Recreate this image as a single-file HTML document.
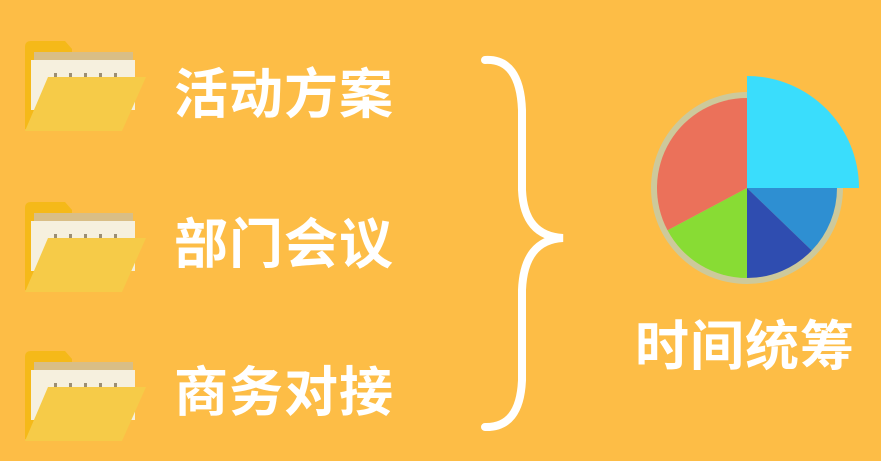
<!DOCTYPE html>
<html><head><meta charset="utf-8"><style>
html,body{margin:0;padding:0;}
body{width:881px;height:461px;background:#FDBD46;overflow:hidden;position:relative;font-family:"Liberation Sans","Noto Sans CJK SC",sans-serif;}
.lbl{position:absolute;color:#fff;font-weight:bold;font-size:54px;line-height:1;letter-spacing:1px;font-family:"Liberation Sans","Noto Sans CJK SC",sans-serif;}
svg{position:absolute;left:0;top:0;}
</style></head><body>
<svg width="881" height="461">
  <defs>
    <g id="folder">
      <path d="M25 14 Q25 8 31 8 L65 8 L72 16 L72 96 L25 96 Z" fill="#F5B919"/>
      <rect x="34" y="19" width="99" height="50" fill="#D9BE86"/>
      <rect x="31" y="27" width="104" height="50" fill="#F6F0DE"/>
      <g fill="#9B8E74"><rect x="54" y="40" width="3" height="4"/><rect x="69" y="40" width="3" height="4"/><rect x="84" y="40" width="3" height="4"/><rect x="99" y="40" width="3" height="4"/><rect x="114" y="40" width="3" height="4"/></g>
      <path d="M48 44 L146 44 L122 98 L25 98 Z" fill="#F6CB48"/>
    </g>
  </defs>
  <use href="#folder" x="0" y="33"/>
  <use href="#folder" x="0" y="194"/>
  <use href="#folder" x="0" y="343"/>
  <path d="M485 60 Q520 58 522 110 L522 190 Q524 236 563 238 Q524 240 522 290 L522 380 Q520 428 485 427" fill="none" stroke="#fff" stroke-width="8" stroke-linecap="round"/>
  <circle cx="747" cy="188" r="96" fill="#CDC99B"/>
  <g id="pie"></g>
</svg>
<div class="lbl" style="left:174px;top:68px;">活动方案</div>
<div class="lbl" style="left:174px;top:218px;">部门会议</div>
<div class="lbl" style="left:174px;top:366px;">商务对接</div>
<div class="lbl" style="left:635px;top:320px;">时间统筹</div>
<script>
const categories = ["cyan","blue","darkblue","green","red"];
const sliceDegrees = [90, 44, 46, 62, 118];
const sliceRadii = [112, 90, 90, 90, 90];
const sliceColors = ["#3ADDFC","#2E8FD2","#2F4DB0","#88DC34","#EB715A"];
const cx = 747, cy = 188;
function pt(deg, r){ const a = (deg-90)*Math.PI/180; return [cx + r*Math.cos(a), cy + r*Math.sin(a)]; }
const g = document.getElementById('pie');
let start = 0;
categories.forEach((c,i)=>{
  const end = start + sliceDegrees[i];
  const r = sliceRadii[i];
  const [x1,y1] = pt(start,r), [x2,y2] = pt(end,r);
  const large = sliceDegrees[i] > 180 ? 1 : 0;
  const p = document.createElementNS('http://www.w3.org/2000/svg','path');
  p.setAttribute('d', `M${cx} ${cy} L${x1} ${y1} A${r} ${r} 0 ${large} 1 ${x2} ${y2} Z`);
  p.setAttribute('fill', sliceColors[i]);
  
  
  g.appendChild(p);
  start = end;
});
</script>
</body></html>
